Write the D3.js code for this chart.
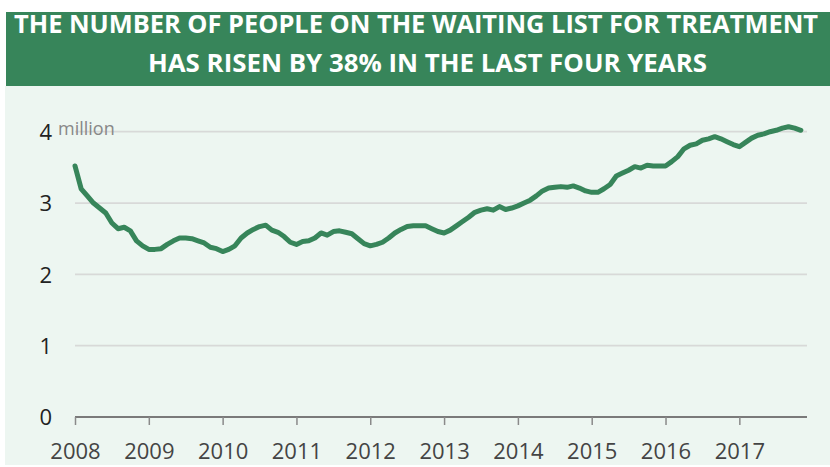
<!DOCTYPE html>
<html><head><meta charset="utf-8">
<script src="https://cdn.jsdelivr.net/npm/d3@7"></script>
<style>
html,body{margin:0;padding:0;background:#fff;}
svg{display:block;}
</style></head>
<body>
<svg id="chart" width="830" height="467"></svg>
<script>
// Monthly waiting list (millions), Jan 2008 onwards
const startYear = 2008;
const values = [
 3.52,3.20,3.10,3.00,2.93,2.86,2.72,2.64,2.66,2.61,2.47,2.40,
 2.35,2.35,2.36,2.42,2.47,2.51,2.51,2.50,2.47,2.44,2.38,2.36,
 2.32,2.35,2.40,2.51,2.58,2.63,2.67,2.69,2.62,2.59,2.53,2.45,
 2.42,2.46,2.47,2.51,2.58,2.55,2.60,2.61,2.59,2.57,2.50,2.43,
 2.40,2.42,2.45,2.51,2.58,2.63,2.67,2.68,2.68,2.68,2.64,2.60,
 2.58,2.62,2.68,2.74,2.80,2.87,2.90,2.92,2.90,2.95,2.91,2.93,
 2.96,3.00,3.04,3.10,3.17,3.21,3.22,3.23,3.22,3.24,3.21,3.17,
 3.15,3.15,3.20,3.26,3.38,3.42,3.46,3.51,3.49,3.53,3.52,3.52,
 3.52,3.58,3.65,3.76,3.81,3.83,3.88,3.90,3.93,3.90,3.86,3.82,
 3.79,3.85,3.91,3.95,3.97,4.00,4.02,4.05,4.07,4.05,4.02
];
const xTickYears = [2008,2009,2010,2011,2012,2013,2014,2015,2016,2017];
const yTicks = [0,1,2,3,4];
const titleLines = ["THE NUMBER OF PEOPLE ON THE WAITING LIST FOR TREATMENT","HAS RISEN BY 38% IN THE LAST FOUR YEARS"];
const unitLabel = "million";

const svg = d3.select("#chart");
const green = "#37855a";

// background panel and banner
svg.append("rect").attr("x",5).attr("y",86).attr("width",825).attr("height",379).attr("fill","#edf6f1");
svg.append("rect").attr("x",6).attr("y",12).attr("width",824).attr("height",74).attr("fill",green);

const tl = [{t:titleLines[0],x:14,y:33,len:804},{t:titleLines[1],x:148,y:72,len:559}];
svg.selectAll("text.title").data(tl).enter().append("text")
  .attr("class","title")
  .attr("x",d=>d.x).attr("y",d=>d.y)
  .attr("textLength",d=>d.len).attr("lengthAdjust","spacingAndGlyphs")
  .attr("font-family","'Open Sans', sans-serif").attr("font-weight","700")
  .attr("font-size",25).attr("fill","#fff")
  .text(d=>d.t);

// scales: month index
const x = d3.scaleLinear().domain([0,119]).range([75,807]);
const y = d3.scaleLinear().domain([0,4]).range([417,131.7]);

// gridlines
const g = svg.append("g");
g.selectAll("line.grid").data(yTicks.filter(v=>v>0)).enter().append("line")
  .attr("x1",75).attr("x2",807)
  .attr("y1",d=>y(d)).attr("y2",d=>y(d))
  .attr("stroke","#d8d9d8").attr("stroke-width",1.7);

// y labels
const yAxis = d3.axisLeft(y).tickValues(yTicks).tickSize(0).tickPadding(0).tickFormat(d3.format("d"));
const ya = svg.append("g").attr("transform","translate(52,0)").call(yAxis);
ya.select(".domain").remove();
ya.selectAll("text").attr("font-family","'Open Sans', sans-serif").attr("font-size",22).attr("fill","#222").attr("dy","0.35em");

svg.append("text").attr("x",58).attr("y",135).attr("font-family","'Open Sans', sans-serif")
  .attr("font-size",18).attr("fill","#888").text(unitLabel);

// x axis
const xAxis = d3.axisBottom(x)
  .tickValues(xTickYears.map(yr=>(yr-startYear)*12))
  .tickSize(8).tickPadding(18)
  .tickFormat(d=>String(startYear + d/12));
const xa = svg.append("g").attr("transform",`translate(0,${y(0)})`).call(xAxis);
xa.select(".domain").attr("stroke","#7a7a7a").attr("stroke-width",2).attr("d",`M75,0H807`);
xa.selectAll(".tick line").attr("stroke","#8a8a8a").attr("stroke-width",1.5);
xa.selectAll("text").attr("font-family","'Open Sans', sans-serif").attr("font-size",22).attr("fill","#444");

// line
const line = d3.line().x((d,i)=>x(i)).y(d=>y(d));
svg.append("path").datum(values).attr("d",line)
  .attr("fill","none").attr("stroke",green).attr("stroke-width",5)
  .attr("stroke-linejoin","round").attr("stroke-linecap","round");
</script>
</body></html>
